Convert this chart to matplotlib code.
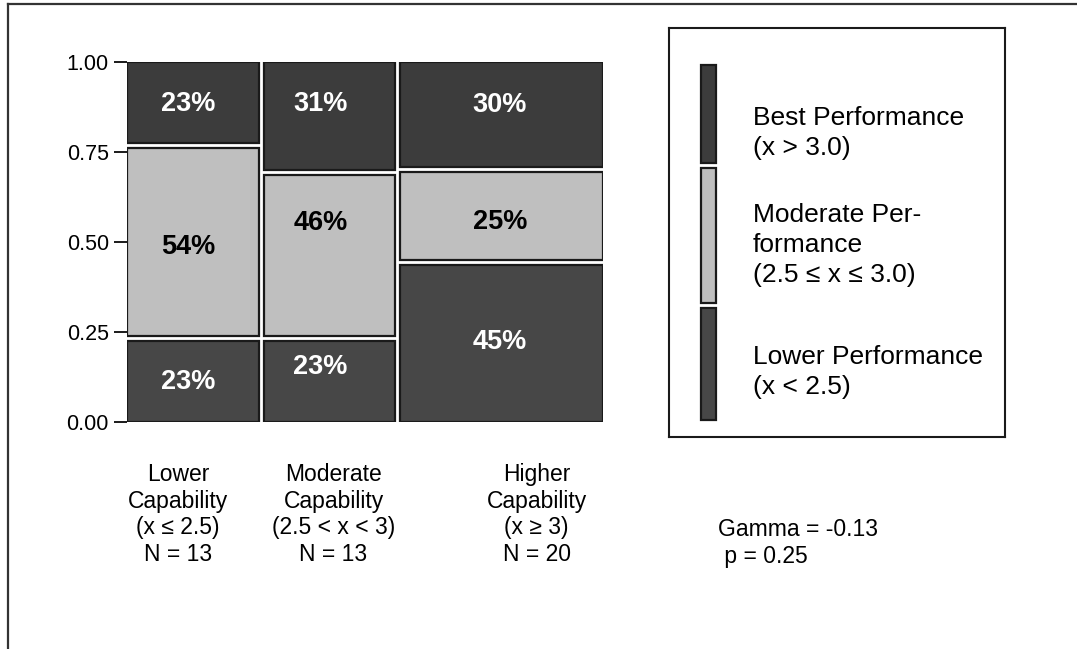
import numpy as np
import matplotlib.pyplot as plt
from matplotlib.patches import Rectangle
from matplotlib.lines import Line2D

plt.rcParams['font.family'] = ['Liberation Sans', 'DejaVu Sans']

# capability groups (columns) and counts per performance level
groups = ['Lower\nCapability\n(x ≤ 2.5)',
          'Moderate\nCapability\n(2.5 < x < 3)',
          'Higher\nCapability\n(x ≥ 3)']
n_lower = np.array([3, 3, 9])      # Lower Performance
n_moderate = np.array([7, 6, 5])   # Moderate Performance
n_best = np.array([3, 4, 6])       # Best Performance
perf_labels = ['Lower Performance\n(x < 2.5)',
               'Moderate Per-\nformance\n(2.5 ≤ x ≤ 3.0)',
               'Best Performance\n(x > 3.0)']
yticks = [0.0, 0.25, 0.5, 0.75, 1.0]
gamma = -0.13
p_value = 0.25

fills = ['#474747', '#bfbfbf', '#3c3c3c']
txt_col = ['white', 'black', 'white']
edge = '#1a1a1a'

# small hand nudges for the labels (pixels)
nudge_x = [-5, -9, -2]
nudge_y = [[0, 15, 1], [-5, 32, -6], [-2, 12, 10]]
cat_nudge = [-15, 4, 35]
legend_nudge = [8, 10, 19]

W, H = 1077, 649
fig = plt.figure(figsize=(W / 100, H / 100), dpi=100, facecolor='white')


def fx(px):
    return px / W


def fy(py):
    return 1 - py / H


ax = fig.add_axes([fx(127), fy(422), 476 / W, 360 / H])
ax.set_xlim(0, 1)
ax.set_ylim(0, 1)

counts = np.vstack([n_lower, n_moderate, n_best])
N = counts.sum(axis=0)
gx, gy = 5 / 476, 5 / 360
widths = N / N.sum() * (1 - gx * (len(N) - 1))
lefts = np.concatenate([[0], np.cumsum(widths + gx)[:-1]])

for j in range(len(N)):
    frac = counts[:, j] / N[j]
    hs = frac * (1 - gy * (len(frac) - 1))
    b = 0.0
    for i in range(len(frac)):
        ax.add_patch(Rectangle((lefts[j], b), widths[j], hs[i], facecolor=fills[i],
                               edgecolor=edge, linewidth=1.6))
        ax.annotate(f'{round(100 * frac[i])}%', xy=(lefts[j] + widths[j] / 2, b + hs[i] / 2),
                    xytext=(nudge_x[j] * 0.72, nudge_y[i][j] * 0.72), textcoords='offset points',
                    ha='center', va='center', fontsize=19.5, fontweight='bold', color=txt_col[i])
        b += hs[i] + gy

for s in ax.spines.values():
    s.set_visible(False)
ax.set_xticks([])
ax.set_yticks(yticks)
ax.set_yticklabels([f'{t:.2f}' for t in yticks])
ax.tick_params(axis='y', direction='out', length=9.4, width=1.4, pad=3.6,
               labelsize=15.5, color='#1a1a1a')

# category labels under the columns
for j in range(len(N)):
    cx = 127 + (lefts[j] + widths[j] / 2) * 476 + cat_nudge[j]
    fig.text(fx(cx), fy(463), f'{groups[j]}\nN = {N[j]}', ha='center', va='top',
             fontsize=16.5, linespacing=1.2)

fig.text(fx(718), fy(518), f'Gamma = {gamma}\n p = {p_value}', ha='left', va='top',
         fontsize=16.5, linespacing=1.2)

# legend box
lax = fig.add_axes([fx(669), fy(437), 336 / W, 409 / H])
lax.set_xlim(0, 336)
lax.set_ylim(409, 0)
lax.set_xticks([])
lax.set_yticks([])
for s in lax.spines.values():
    s.set_linewidth(1.5)
    s.set_color(edge)
tot = counts.sum(axis=1)
lh = tot / tot.sum() * (355 - 10)
y = 37
for i in [2, 1, 0]:
    lax.add_patch(Rectangle((32, y), 15, lh[i], facecolor=fills[i], edgecolor=edge, linewidth=1.6))
    lax.text(84, y + lh[i] / 2 + legend_nudge[i], perf_labels[i], ha='left', va='center',
             fontsize=19, linespacing=1.3)
    y += lh[i] + 5

# outer frame (top and left edges)
fig.add_artist(Line2D([fx(8), 1], [fy(4), fy(4)], color='#333333', linewidth=1.6))
fig.add_artist(Line2D([fx(8), fx(8)], [fy(4), 0], color='#333333', linewidth=1.6))

fig.savefig('out.png', dpi=100, facecolor='white')
